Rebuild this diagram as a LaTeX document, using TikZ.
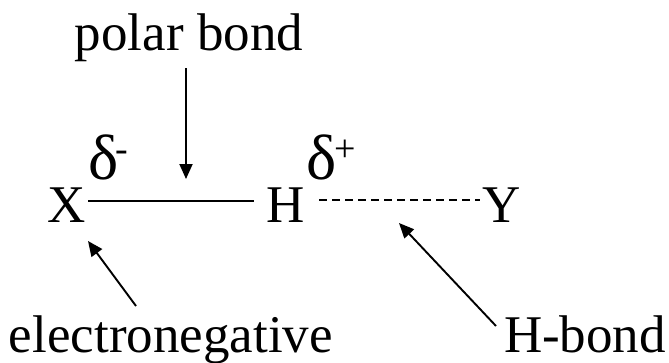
\documentclass[tikz,border=0pt]{standalone}
\usepackage{fontspec}
\setmainfont{Liberation Serif}
\usetikzlibrary{arrows.meta,calc}
\begin{document}
\begin{tikzpicture}[x=1pt,y=-1pt,
  lbl/.style={inner sep=0pt,outer sep=0pt,anchor=base west,font=\fontsize{53}{60}\selectfont},
  dlt/.style={inner sep=0pt,outer sep=0pt,anchor=base west,font=\fontsize{64}{68}\selectfont},
  sgn/.style={inner sep=0pt,outer sep=0pt,anchor=base west,font=\fontsize{38}{40}\selectfont},
  ptr/.style={line width=1.9pt,-{Triangle[length=15pt,width=13pt]}},
  bondline/.style={line width=2pt},
  hbondline/.style={line width=2pt,dash pattern=on 8pt off 5pt}]
\useasboundingbox (0,0) rectangle (669,362);
% texts
\node[lbl,anchor=base] (polar) at (189,50) {polar bond};
\node[lbl] (X) at (47,222) {X};
\node[lbl] (H) at (266,222) {H};
\node[lbl] (Y) at (482,222) {Y};
\node[dlt] (dm) at (88,179) {δ};
\node[sgn] (dms) at (115,161) {-};
\node[dlt] (dp) at (306,179) {δ};
\node[sgn] (dps) at (334,161) {+};
\node[lbl] (eneg) at (9,352) {electronegative};
\node[lbl] (hb) at (504,352) {H-bond};
% bonds
\draw[bondline] ($(X.base east)+(3,-21.5)$) -- ($(H.base west)+(-12,-21.5)$);
\draw[hbondline] ($(H.base east)+(15,-22)$) -- ($(Y.base west)+(-2,-22)$);
% arrows
\coordinate (pt) at (186,179);
\coordinate (ps) at (186,68);
\coordinate (et) at (88,241);
\coordinate (es) at (136,306);
\coordinate (ht) at (399,223);
\coordinate (hs) at (496,326);
\draw[ptr] (ps) -- (pt);
\draw[ptr] (es) -- (et);
\draw[ptr] (hs) -- (ht);
\end{tikzpicture}
\end{document}
